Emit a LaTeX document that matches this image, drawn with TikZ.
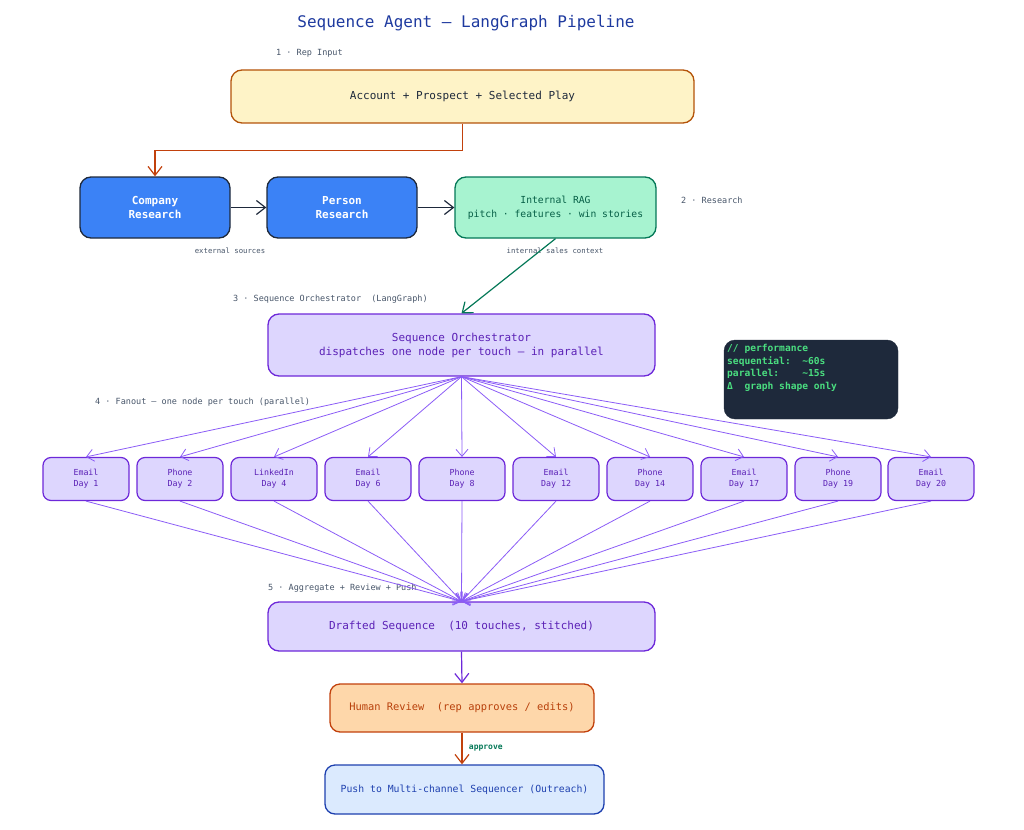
\documentclass[tikz,border=0pt]{standalone}
\usepackage{fontspec}
\setmainfont{DejaVu Sans Mono}
\setmonofont{DejaVu Sans Mono}
\usetikzlibrary{arrows.meta}
\definecolor{ctitle}{HTML}{1E3A9F}
\definecolor{cgray}{HTML}{475569}
\definecolor{inFill}{HTML}{FEF3C7}
\definecolor{inDraw}{HTML}{B45309}
\definecolor{corange}{HTML}{C2410C}
\definecolor{blueFill}{HTML}{3B82F6}
\definecolor{navy}{HTML}{1E293B}
\definecolor{ragFill}{HTML}{A7F3D0}
\definecolor{ragDraw}{HTML}{047857}
\definecolor{ragText}{HTML}{065F46}
\definecolor{lavFill}{HTML}{DDD6FE}
\definecolor{purDraw}{HTML}{6D28D9}
\definecolor{purText}{HTML}{5B21B6}
\definecolor{fanLine}{HTML}{8B5CF6}
\definecolor{perfText}{HTML}{4ADE80}
\definecolor{humFill}{HTML}{FED7AA}
\definecolor{humText}{HTML}{B8400B}
\definecolor{pushFill}{HTML}{DBEAFE}
\definecolor{pushDraw}{HTML}{1E40AF}
\tikzset{
  box/.style={draw, rounded corners=11pt, line width=1.3pt, align=center, inner sep=0pt, font=\fontsize{11}{14}\selectfont},
  touch/.style={draw=purDraw, fill=lavFill, text=purText, rounded corners=8pt, line width=1.2pt, align=center, inner sep=0pt, minimum width=86pt, minimum height=43pt, font=\fontsize{8.3}{11}\selectfont},
  lbl/.style={text=cgray, anchor=west, inner sep=0pt, font=\fontsize{8.5}{10}\selectfont},
  note/.style={text=cgray, inner sep=0pt, font=\fontsize{7.3}{9}\selectfont},
  arr/.style={-{Straight Barb[length=9pt,width=14pt]}, line width=1.2pt},
  fan/.style={-{Straight Barb[length=7pt,width=12pt]}, line width=0.8pt, draw=fanLine},
}
\begin{document}
\begin{tikzpicture}[x=1pt,y=-1pt]
\useasboundingbox (0,0) rectangle (1024,829);
\node[text=ctitle, font=\fontsize{16}{18}\selectfont] (title) at (466,23) {Sequence Agent — LangGraph Pipeline};
\node[lbl] (l1) at (276,53) {1 · Rep Input};
\node[box, draw=inDraw, fill=inFill, text=navy, minimum width=463pt, minimum height=53pt] (input) at (462.5,96.5) {Account + Prospect + Selected Play};
\node[box, draw=navy, fill=blueFill, text=white, minimum width=150pt, minimum height=61pt, font=\bfseries\fontsize{11}{14}\selectfont] (comp) at (155,207.5) {Company\\Research};
\node[box, draw=navy, fill=blueFill, text=white, minimum width=150pt, minimum height=61pt, font=\bfseries\fontsize{11}{14}\selectfont] (pers) at (342,207.5) {Person\\Research};
\node[box, draw=ragDraw, fill=ragFill, text=ragText, minimum width=201pt, minimum height=61pt, font=\fontsize{9.7}{14}\selectfont] (rag) at (555.5,207.5) {Internal RAG\\pitch · features · win stories};
\node[lbl] (l2) at (681,200) {2 · Research};
\node[note] (ext) at (230,251) {external sources};
\node[note] (int) at (555,251) {internal sales context};
\node[lbl] (l3) at (233,299) {3 · Sequence Orchestrator\ \ (LangGraph)};
\node[box, draw=purDraw, fill=lavFill, text=purText, minimum width=387pt, minimum height=62pt] (orch) at (461.5,345) {Sequence Orchestrator\\dispatches one node per touch — in parallel};
\node[draw=navy, fill=navy, rounded corners=11pt, minimum width=174pt, minimum height=79pt, inner sep=0pt] (perf) at (811,379.5) {};
\node[text=perfText, anchor=north west, inner sep=0pt, align=left, font=\bfseries\fontsize{9.6}{12.6}\selectfont] (perftxt) at (727,344) {// performance\\sequential:\ \ \textasciitilde60s\\parallel:\ \ \ \ \textasciitilde15s\\Δ\ \ graph shape only};
\node[lbl] (l4) at (95,402) {4 · Fanout — one node per touch (parallel)};
\node[touch] (t1) at (86,479) {Email\\Day 1};
\node[touch] (t2) at (180,479) {Phone\\Day 2};
\node[touch] (t3) at (274,479) {LinkedIn\\Day 4};
\node[touch] (t4) at (368,479) {Email\\Day 6};
\node[touch] (t5) at (462,479) {Phone\\Day 8};
\node[touch] (t6) at (556,479) {Email\\Day 12};
\node[touch] (t7) at (650,479) {Phone\\Day 14};
\node[touch] (t8) at (744,479) {Email\\Day 17};
\node[touch] (t9) at (838,479) {Phone\\Day 19};
\node[touch] (t10) at (931,479) {Email\\Day 20};
\node[lbl] (l5) at (268,588) {5 · Aggregate + Review + Push};
\node[box, draw=purDraw, fill=lavFill, text=purText, minimum width=387pt, minimum height=49pt] (draft) at (461.5,626.5) {Drafted Sequence\ \ (10 touches, stitched)};
\node[box, draw=corange, fill=humFill, text=humText, minimum width=264pt, minimum height=48pt, rounded corners=10pt, font=\fontsize{10.4}{14}\selectfont] (hum) at (462,708) {Human Review\ \ (rep approves / edits)};
\node[box, draw=pushDraw, fill=pushFill, text=pushDraw, minimum width=279pt, minimum height=49pt, rounded corners=10pt, font=\fontsize{9.8}{14}\selectfont] (push) at (464.5,789.5) {Push to Multi-channel Sequencer (Outreach)};
% connectors
\draw[arr, draw=corange] (input.south) -- ++(0,27) -| (comp.north);
\draw[arr, draw=navy] (comp.east) -- (pers.west);
\draw[arr, draw=navy] (pers.east) -- (rag.west);
\draw[arr, draw=ragDraw] (rag.south) -- (orch.north);
\foreach \t in {t1,t2,t3,t4,t5,t6,t7,t8,t9,t10} {
  \draw[fan] (orch.south) -- (\t.north);
  \draw[fan] (\t.south) -- (draft.north);
}
\draw[arr, draw=purDraw] (draft.south) -- (hum.north);
\draw[arr, draw=corange] (hum.south) -- node[right, xshift=3pt, text=ragDraw, font=\bfseries\fontsize{8}{10}\selectfont] {approve} (push.north -| hum.south);
\end{tikzpicture}
\end{document}
